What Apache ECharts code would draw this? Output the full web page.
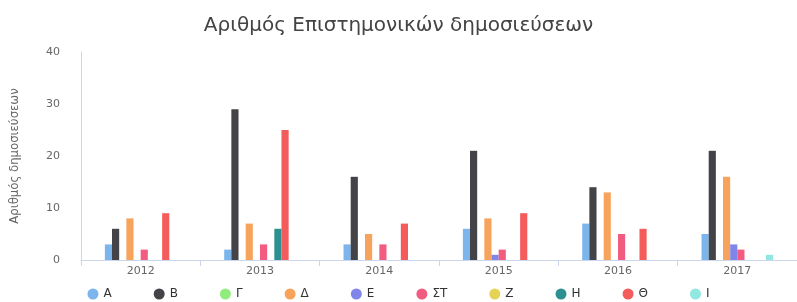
<!DOCTYPE html>
<html>
<head>
<meta charset="utf-8">
<script src="https://cdn.jsdelivr.net/npm/echarts@6/dist/echarts.min.js"></script>
<style>
  html, body { margin: 0; padding: 0; background: #fff; }
  #chart { width: 797px; height: 302px; }
</style>
</head>
<body>
<div id="chart"></div>
<script>
const years = ["2012", "2013", "2014", "2015", "2016", "2017"];
const names = ["Α", "Β", "Γ", "Δ", "Ε", "ΣΤ", "Ζ", "Η", "Θ", "Ι"];
const colors = ["#7cb5ec", "#434348", "#90ed7d", "#f7a35c", "#8085e9",
  "#f15c80", "#e4d354", "#2b908f", "#f45b5b", "#91e8e1"];

// one list per group, values per year
const valA = [3, 2, 3, 6, 7, 5];
const valB = [6, 29, 16, 21, 14, 21];
const valG = [0, 0, 0, 0, 0, 0];
const valD = [8, 7, 5, 8, 13, 16];
const valE = [0, 0, 0, 1, 0, 3];
const valST = [2, 3, 3, 2, 5, 2];
const valZ = [0, 0, 0, 0, 0, 0];
const valH = [0, 6, 0, 0, 0, 0];
const valTh = [9, 25, 7, 9, 6, 0];
const valI = [0, 0, 0, 0, 0, 1];
const values = [valA, valB, valG, valD, valE, valST, valZ, valH, valTh, valI];

const axisColor = "#ccd6eb";
const labelColor = "#666666";

const myChart = echarts.init(document.querySelector("#chart"));
myChart.setOption({
  animation: false,
  color: colors,
  title: {
    text: "Αριθμός Επιστημονικών δημοσιεύσεων",
    left: "center",
    top: 11,
    textStyle: {
      fontFamily: "DejaVu Sans",
      fontSize: 20,
      fontWeight: "normal",
      color: "#444444"
    }
  },
  legend: {
    top: 283,
    left: "center",
    icon: "circle",
    itemWidth: 11,
    itemHeight: 11,
    itemGap: 42,
    textStyle: { fontFamily: "DejaVu Sans", fontSize: 12, color: "#333333" },
    data: names
  },
  grid: {
    left: 81,
    top: 52,
    bottom: 42,
    right: -5,
    containLabel: false
  },
  xAxis: {
    type: "category",
    data: years,
    axisLine: { lineStyle: { color: axisColor } },
    axisTick: { show: true, length: 6, lineStyle: { color: axisColor } },
    axisLabel: { color: labelColor, fontSize: 11, fontFamily: "DejaVu Sans", margin: 6 }
  },
  yAxis: {
    type: "value",
    min: 0,
    max: 40,
    interval: 10,
    name: "Αριθμός δημοσιεύσεων",
    nameLocation: "middle",
    nameGap: 60,
    nameTextStyle: {
      color: labelColor,
      fontSize: 13,
      fontFamily: "DejaVu Sans Condensed, Liberation Sans Narrow, sans-serif"
    },
    axisLine: { show: true, lineStyle: { color: axisColor } },
    axisTick: { show: false },
    splitLine: { show: false },
    axisLabel: { color: labelColor, fontSize: 11, fontFamily: "DejaVu Sans", margin: 21 }
  },
  series: names.map(function (n, i) {
    return {
      name: n,
      type: "bar",
      data: values[i],
      barGap: "0%",
      barCategoryGap: "40%"
    };
  })
});
</script>
</body>
</html>
